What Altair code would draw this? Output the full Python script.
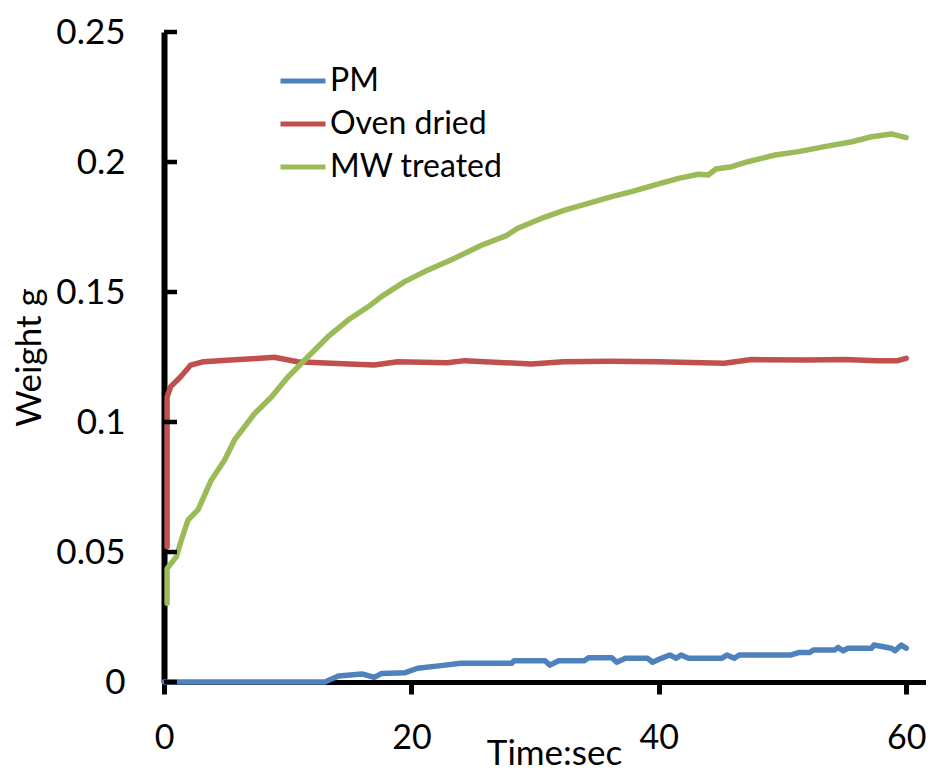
import altair as alt
import pandas as pd

series_names = ["PM", "Oven dried", "MW treated"]
series_colors = ["#4F81BD", "#C0504D", "#9BBB59"]

pm_t = [0, 13.0, 14.1, 16.0, 17.0, 17.6, 19.5, 20.5, 22.2, 24.0,
        28.1, 28.3, 30.8, 31.2, 31.9, 34.0, 34.3, 36.2, 36.6, 37.3,
        39.1, 39.5, 40.2, 40.9, 41.4, 41.8, 42.4, 45.1, 45.5, 46.1,
        46.5, 50.7, 51.3, 52.2, 52.5, 54.2, 54.5, 54.9, 55.3, 57.2,
        57.4, 58.8, 59.1, 59.6, 60.0]
pm_w = [0, 0, 0.0023, 0.0031, 0.0018, 0.0033, 0.0036, 0.0053, 0.0062, 0.0072,
        0.0072, 0.0082, 0.0082, 0.0065, 0.0082, 0.0082, 0.0093, 0.0093, 0.0076, 0.0091,
        0.0091, 0.0076, 0.0091, 0.0104, 0.0091, 0.0104, 0.0091, 0.0091, 0.0104, 0.0091,
        0.0104, 0.0104, 0.0113, 0.0113, 0.0123, 0.0123, 0.0133, 0.0120, 0.0130, 0.0130,
        0.0142, 0.0130, 0.0120, 0.0142, 0.0130]

oven_t = [0.25, 0.25, 0.54, 1.35, 2.16, 3.2, 5.4, 7.8, 8.9, 10.8,
          13.5, 17.0, 18.9, 22.9, 24.3, 29.7, 32.3, 36.0, 40.0, 45.3,
          47.5, 52.0, 55.0, 57.6, 59.3, 60.0]
oven_w = [0.052, 0.1096, 0.1136, 0.1174, 0.1219, 0.1232, 0.1238, 0.1245, 0.1249, 0.1232,
          0.1226, 0.1219, 0.1232, 0.1228, 0.1236, 0.1223, 0.1232, 0.1234, 0.1232, 0.1226,
          0.1240, 0.1238, 0.1240, 0.1236, 0.1236, 0.1245]

mw_t = [0.25, 0.25, 1.0, 1.4, 1.94, 2.75, 3.83, 4.9, 5.7, 7.33,
        8.7, 10.0, 11.64, 13.26, 14.88, 16.5, 17.57, 19.46, 21.35, 23.5,
        25.66, 27.68, 28.6, 30.5, 32.4, 34.3, 36.2, 37.8, 39.7, 41.6,
        43.2, 44.0, 44.6, 45.9, 47.2, 49.4, 51.3, 53.4, 55.6, 57.2,
        58.8, 60.0]
mw_w = [0.0303, 0.0436, 0.0482, 0.0546, 0.0623, 0.0662, 0.0777, 0.0854, 0.0931, 0.1033,
        0.1097, 0.1172, 0.1251, 0.1328, 0.1392, 0.1443, 0.1482, 0.1540, 0.1585, 0.1630,
        0.1680, 0.1717, 0.1745, 0.1783, 0.1815, 0.1841, 0.1867, 0.1886, 0.1912, 0.1937,
        0.1953, 0.1950, 0.1973, 0.1982, 0.2001, 0.2027, 0.2040, 0.2059, 0.2078, 0.2097,
        0.2108, 0.2094]

y_ticks = [0, 0.05, 0.1, 0.15, 0.2, 0.25]
x_ticks = [0, 20, 40, 60]

rows = []
for name, ts, ws in zip(series_names, [pm_t, oven_t, mw_t], [pm_w, oven_w, mw_w]):
    for i, (t, w) in enumerate(zip(ts, ws)):
        rows.append({"series": name, "t": t, "w": w, "i": i})
df = pd.DataFrame(rows)
tick_df = pd.DataFrame({"w": y_ticks})

FONT = "Lato"
x_scale = alt.Scale(domain=[0, 61.6], nice=False, zero=False)
y_scale = alt.Scale(domain=[0, 0.25], nice=False)

y_axis = alt.Axis(
    title="Weight g", values=y_ticks, format=".2~f", grid=False, ticks=False, tickSize=0,
    domainColor="black", domainWidth=6, labelFlush=False,
    labelFont=FONT, labelFontSize=35, labelColor="black", labelPadding=39,
    titleFont=FONT, titleFontSize=35, titleFontWeight="normal", titleColor="black",
    titleBaseline="alphabetic", titleAlign="center", titleAngle=-90,
    titleX=-124, titleY=325)

lines = alt.Chart(df).mark_line(strokeWidth=5.5, strokeJoin="round", strokeCap="round").encode(
    x=alt.X("t:Q", scale=x_scale, axis=alt.Axis(
        title="Time:sec", values=x_ticks, format="d", grid=False, labelFlush=False,
        domainColor="black", domainWidth=5, tickColor="black", tickWidth=5, tickSize=12,
        labelFont=FONT, labelFontSize=34, labelColor="black", labelBaseline="alphabetic",
        labelPadding=54, titleFont=FONT, titleFontSize=35, titleFontWeight="normal",
        titleColor="black", titleBaseline="alphabetic", titleAlign="center",
        titleX=390, titleY=82)),
    y=alt.Y("w:Q", scale=y_scale, axis=y_axis),
    color=alt.Color("series:N", scale=alt.Scale(domain=series_names, range=series_colors),
                    legend=alt.Legend(title=None, orient="none", legendX=114, legendY=24,
                                      symbolType="stroke", symbolSize=2025, symbolStrokeWidth=5,
                                      labelFont=FONT, labelFontSize=32, labelColor="black",
                                      labelOffset=2, labelLimit=400, rowPadding=2,
                                      symbolOffset=0, padding=0)),
    order=alt.Order("i:Q"),
)

yticks = alt.Chart(tick_df).mark_rule(color="black", strokeWidth=4.5).encode(
    y=alt.Y("w:Q", scale=y_scale, axis=y_axis),
    x=alt.value(0),
    x2=alt.value(13),
)

chart = alt.layer(lines, yticks).properties(
    width=762, height=650,
    autosize=alt.AutoSizeParams(type="none"),
    padding={"left": 156, "top": 24, "right": 0, "bottom": 88},
).configure_view(stroke=None)

chart.save("out.html", embed_options={"renderer": "svg", "actions": False})
